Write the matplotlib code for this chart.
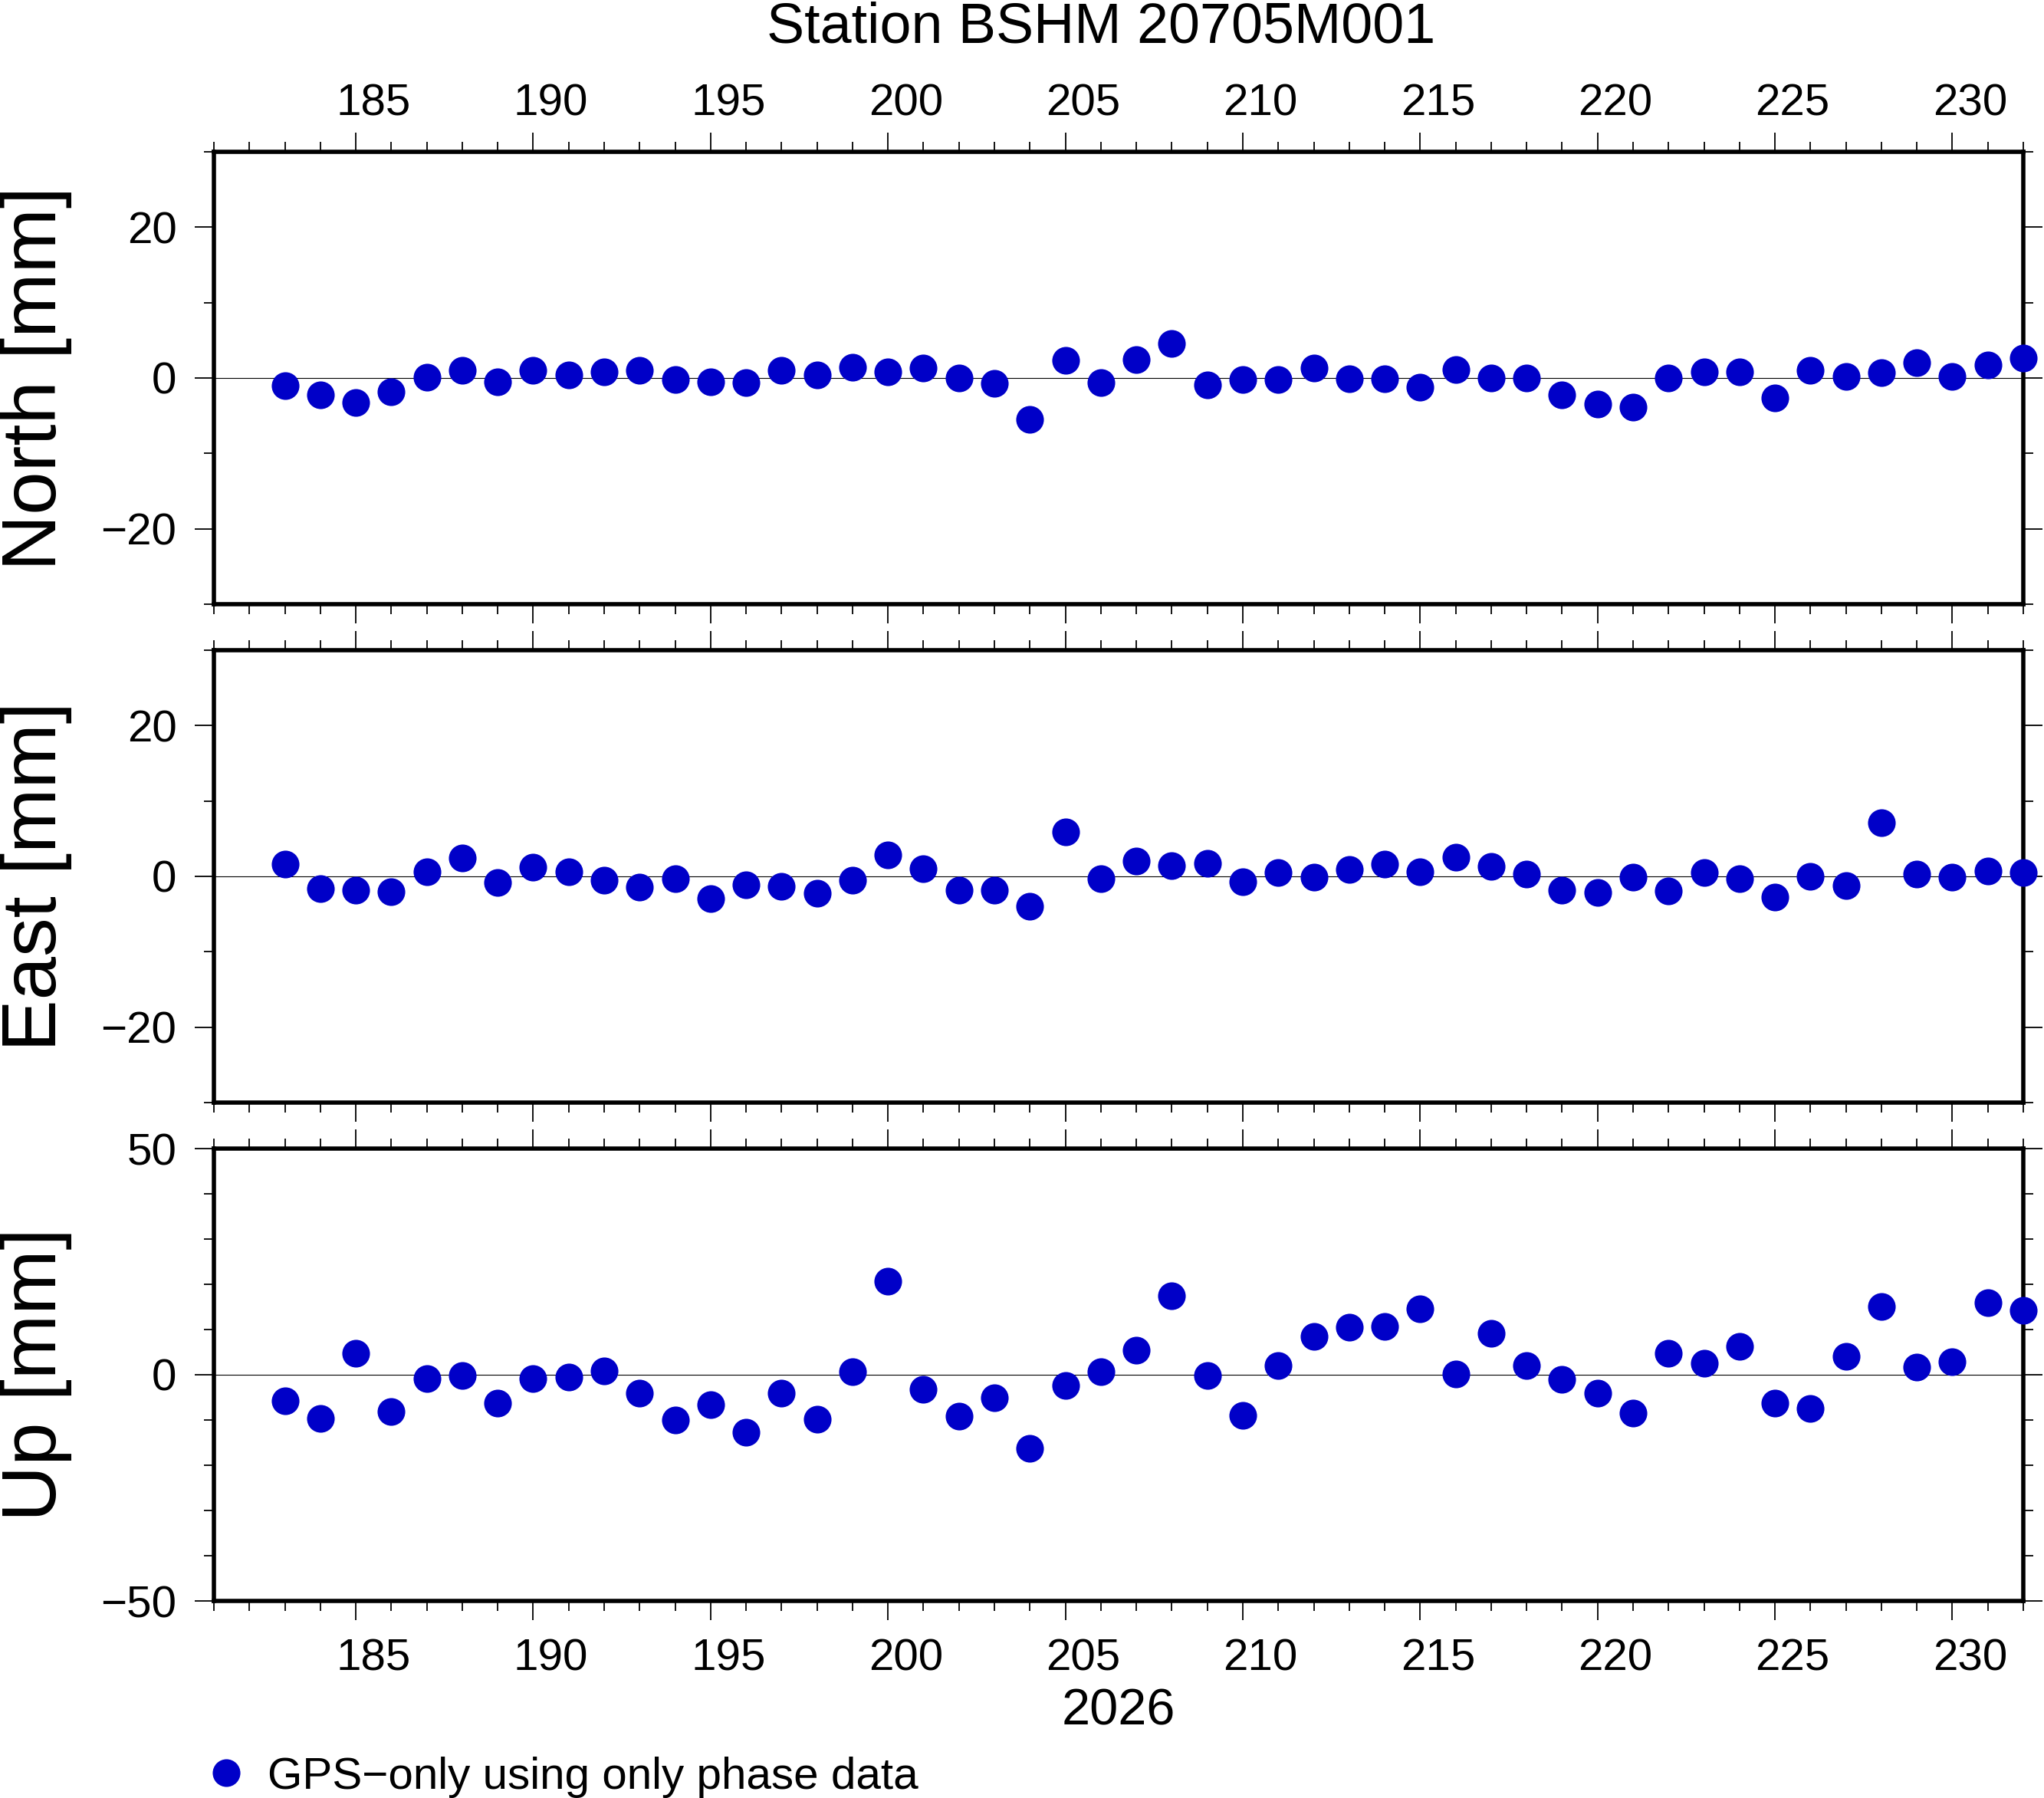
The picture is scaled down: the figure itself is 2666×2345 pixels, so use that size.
"""
GNSS daily coordinate residuals for station BSHM (North / East / Up).

GMT-like layout: three stacked panels, day-of-year axis labelled on top
of the first panel and under the last one.
"""

import matplotlib
matplotlib.use('Agg')
import matplotlib.pyplot as plt
from matplotlib.lines import Line2D
from matplotlib.ticker import MultipleLocator
import matplotlib.transforms as mtransforms

plt.rcParams['font.family'] = ['Liberation Sans', 'DejaVu Sans']

# --- data ---------------------------------------------------------------
STATION = "Station BSHM 20705M001"
YEAR_LABEL = "2026"
LEGEND_LABEL = "GPS\u2212only using only phase data"

days = list(range(183, 233))

north = [-1.0, -2.2, -3.3, -1.8, 0.15, 1.0, -0.5, 1.0, 0.4, 0.8,
         1.0, -0.2, -0.5, -0.6, 1.0, 0.4, 1.45, 0.8, 1.35, 0.0,
         -0.7, -5.5, 2.3, -0.6, 2.4, 4.6, -0.9, -0.2, -0.2, 1.35,
         -0.15, -0.15, -1.25, 1.1, 0.0, 0.0, -2.2, -3.5, -3.9, 0.0,
         0.8, 0.8, -2.6, 1.0, 0.2, 0.7, 2.0, 0.2, 1.7, 2.6]

east = [1.6, -1.6, -1.8, -2.0, 0.6, 2.4, -0.8, 1.2, 0.6, -0.5,
        -1.4, -0.3, -2.9, -1.1, -1.3, -2.2, -0.5, 2.8, 1.0, -1.8,
        -1.8, -3.95, 5.9, -0.3, 2.0, 1.4, 1.7, -0.7, 0.5, -0.1,
        0.9, 1.6, 0.6, 2.5, 1.3, 0.3, -1.8, -2.1, -0.1, -1.9,
        0.5, -0.3, -2.7, 0.0, -1.2, 7.1, 0.3, -0.1, 0.7, 0.5]

up = [-5.8, -9.6, 4.7, -8.1, -0.9, -0.1, -6.3, -0.8, -0.5, 0.9,
      -4.0, -10.0, -6.6, -12.7, -4.0, -9.9, 0.75, 20.6, -3.2, -9.2,
      -5.0, -16.3, -2.4, 0.6, 5.4, 17.5, -0.2, -9.0, 2.0, 8.4,
      10.5, 10.6, 14.5, 0.1, 9.2, 2.1, -1.0, -4.0, -8.4, 4.8,
      2.6, 6.25, -6.3, -7.4, 4.0, 15.1, 1.7, 2.9, 16.0, 14.2]

panel_names = ["North [mm]", "East [mm]", "Up [mm]"]
panel_values = [north, east, up]
panel_limits = [30, 30, 50]
panel_major = [20, 20, 50]
panel_minor = [10, 10, 10]

x_range = (181, 232)
x_labels = list(range(185, 231, 5))

# --- figure -------------------------------------------------------------
W, H = 2666, 2345
fig = plt.figure(figsize=(W / 100, H / 100), dpi=100)

DOT_COLOR = '#0000c8'
left = 279 / W
width = (2639 - 279) / W
panel_tops = [198, 848, 1498]   # pixel rows of the upper frame edge
panel_h = 590

axes = []
for i, name in enumerate(panel_names):
    top = panel_tops[i]
    ax = fig.add_axes([left, 1 - (top + panel_h) / H, width, panel_h / H])
    lim = panel_limits[i]

    ax.axhline(0, color='black', lw=0.8, zorder=1)
    ax.plot(days, panel_values[i], 'o', color=DOT_COLOR, markersize=26,
            markeredgewidth=0, clip_on=False, zorder=3)

    ax.set_xlim(*x_range)
    ax.set_ylim(-lim, lim)
    ax.xaxis.set_major_locator(MultipleLocator(5))
    ax.xaxis.set_minor_locator(MultipleLocator(1))
    ax.yaxis.set_major_locator(MultipleLocator(panel_major[i]))
    ax.yaxis.set_minor_locator(MultipleLocator(panel_minor[i]))

    ax.tick_params(which='both', direction='out', top=True, right=True,
                   bottom=True, left=True, labelbottom=False,
                   width=1.3, color='black')
    ax.tick_params(which='major', length=18, labelsize=42, pad=17)
    ax.tick_params(which='minor', length=9.4)

    for sp in ax.spines.values():
        sp.set_linewidth(4)

    fig.text(73.5 / W, 1 - (top + panel_h / 2) / H, name, rotation=90,
             rotation_mode='anchor', ha='center', va='baseline', fontsize=73)
    axes.append(ax)

# day labels sit in the middle of each day interval, as GMT does
for d in x_labels:
    axes[0].annotate(str(d), xy=(d + 0.5, 1), xycoords=('data', 'axes fraction'),
                     xytext=(0, 34), textcoords='offset points',
                     ha='center', va='baseline', fontsize=42)
    axes[-1].annotate(str(d), xy=(d + 0.5, 0), xycoords=('data', 'axes fraction'),
                      xytext=(0, -65.5), textcoords='offset points',
                      ha='center', va='baseline', fontsize=42)

fig.text(1436 / W, 1 - 56 / H, STATION, ha='center', va='baseline', fontsize=53)
fig.text(1459 / W, 1 - 2250 / H, YEAR_LABEL, ha='center', va='baseline', fontsize=48)

# legend
fig.add_artist(Line2D([295 / W], [1 - 2312 / H], transform=fig.transFigure,
                      marker='o', color=DOT_COLOR, markersize=26,
                      markeredgewidth=0, linestyle='none'))
fig.text(349 / W, 1 - 2333 / H, LEGEND_LABEL, ha='left', va='baseline', fontsize=42)

fig.savefig('out.png', dpi=100)
